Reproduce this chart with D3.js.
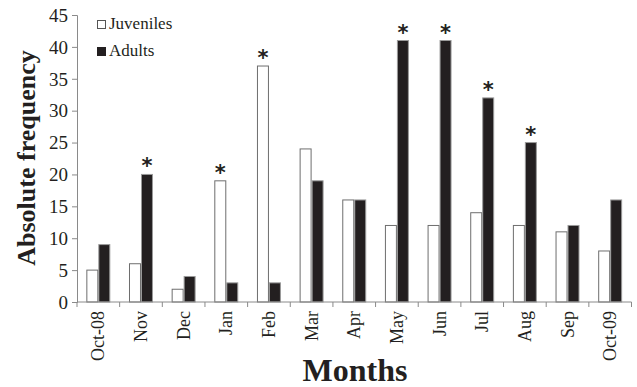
<!DOCTYPE html>
<html>
<head>
<meta charset="utf-8">
<script src="https://cdn.jsdelivr.net/npm/d3@7"></script>
<style>
  html, body { margin: 0; padding: 0; background: #fff; }
  svg { display: block; }
</style>
</head>
<body>
<script>
// Monthly absolute frequency of juveniles and adults, Oct-08 to Oct-09
const months = ["Oct-08","Nov","Dec","Jan","Feb","Mar","Apr","May","Jun","Jul","Aug","Sep","Oct-09"];
const juveniles = [5, 6, 2, 19, 37, 24, 16, 12, 12, 14, 12, 11, 8];
const adults    = [9, 20, 4, 3, 3, 19, 16, 41, 41, 32, 25, 12, 16];
// Months where a significant difference is marked, and which series carries the star
const starred = [
  { month: "Nov", series: "adults" },
  { month: "Jan", series: "juveniles" },
  { month: "Feb", series: "juveniles" },
  { month: "May", series: "adults" },
  { month: "Jun", series: "adults" },
  { month: "Jul", series: "adults" },
  { month: "Aug", series: "adults" }
];
const yTicks = [0, 5, 10, 15, 20, 25, 30, 35, 40, 45];
const seriesNames = ["juveniles", "adults"];
const seriesLabels = ["Juveniles", "Adults"];

const W = 637, H = 387;
const serif = "'Liberation Serif', 'Times New Roman', serif";
const ink = "#231f20", axisCol = "#8a8a8a";

const svg = d3.select("body").append("svg").attr("width", W).attr("height", H)
  .attr("font-family", serif);

const x = d3.scaleBand().domain(months).range([77, 631.5]);
const xs = d3.scaleBand().domain(seriesNames).range([0, x.bandwidth()]).paddingOuter(0.78);
const y = d3.scaleLinear().domain([0, 45]).range([302, 15]);

const values = { juveniles, adults };
const rows = months.map((m, i) => ({ month: m, juveniles: juveniles[i], adults: adults[i] }));

// Bars
const groups = svg.append("g").selectAll("g").data(rows).join("g")
  .attr("transform", d => `translate(${x(d.month)},0)`);
groups.selectAll("rect").data(d => seriesNames.map(s => ({ s, v: d[s] }))).join("rect")
  .attr("x", d => xs(d.s) + 0.5)
  .attr("y", d => y(d.v))
  .attr("width", xs.bandwidth() - 1)
  .attr("height", d => y(0) - y(d.v))
  .attr("fill", d => d.s === "juveniles" ? "#fff" : ink)
  .attr("stroke", d => d.s === "juveniles" ? "#6e6e6e" : "#9a9a9a")
  .attr("stroke-width", 1);

// Significance stars above the marked bars
svg.append("g").selectAll("text").data(starred).join("text")
  .attr("x", d => x(d.month) + xs(d.series) + xs.bandwidth() / 2)
  .attr("y", d => y(values[d.series][months.indexOf(d.month)]) - 1)
  .attr("text-anchor", "middle")
  .attr("font-family", "'DejaVu Sans', sans-serif")
  .attr("font-size", 21)
  .attr("font-weight", "bold")
  .attr("fill", ink)
  .text("*");

// Y axis
const yAxis = svg.append("g").attr("transform", "translate(77,0)")
  .call(d3.axisLeft(y).tickValues(yTicks).tickSize(5).tickPadding(4).tickFormat(d3.format("d")))
  .attr("font-family", serif).attr("font-size", 19);
yAxis.select(".domain").attr("stroke", axisCol);
yAxis.selectAll(".tick line").attr("stroke", axisCol);
yAxis.selectAll(".tick text").attr("fill", ink).attr("dy", "0.33em");

// X axis: ticks at band boundaries
const xAxisG = svg.append("g").attr("transform", `translate(0,${y(0)})`);
xAxisG.append("line").attr("x1", 77).attr("x2", 631.5).attr("stroke", axisCol);
const boundaries = months.map(m => x(m)).concat([x(months[months.length - 1]) + x.bandwidth()]);
xAxisG.selectAll("line.tk").data(boundaries).join("line").attr("class", "tk")
  .attr("x1", d => d).attr("x2", d => d).attr("y1", 0).attr("y2", 5).attr("stroke", axisCol);
xAxisG.selectAll("text").data(months).join("text")
  .attr("transform", d => `translate(${x(d) + x.bandwidth() / 2 + 6},9) rotate(-90)`)
  .attr("text-anchor", "end")
  .attr("font-size", 18)
  .attr("fill", ink)
  .text(d => d);

// Axis titles
svg.append("text")
  .attr("transform", "translate(35,158) rotate(-90)")
  .attr("text-anchor", "middle")
  .attr("font-size", 26).attr("font-weight", "bold").attr("fill", ink)
  .text("Absolute frequency");
svg.append("text")
  .attr("x", 355).attr("y", 381)
  .attr("text-anchor", "middle")
  .attr("font-size", 32).attr("font-weight", "bold").attr("fill", ink)
  .text("Months");

// Legend
const legend = svg.append("g").attr("transform", "translate(97,20)");
const li = legend.selectAll("g").data(seriesNames).join("g")
  .attr("transform", (d, i) => `translate(0,${i * 27})`);
li.append("rect").attr("x", 0.5).attr("y", 0.5).attr("width", 8).attr("height", 8)
  .attr("fill", d => d === "juveniles" ? "#fff" : ink)
  .attr("stroke", d => d === "juveniles" ? "#555" : ink);
li.append("text").attr("x", 12).attr("y", 9)
  .attr("font-size", 17).attr("fill", ink)
  .text((d, i) => seriesLabels[i]);
</script>
</body>
</html>
